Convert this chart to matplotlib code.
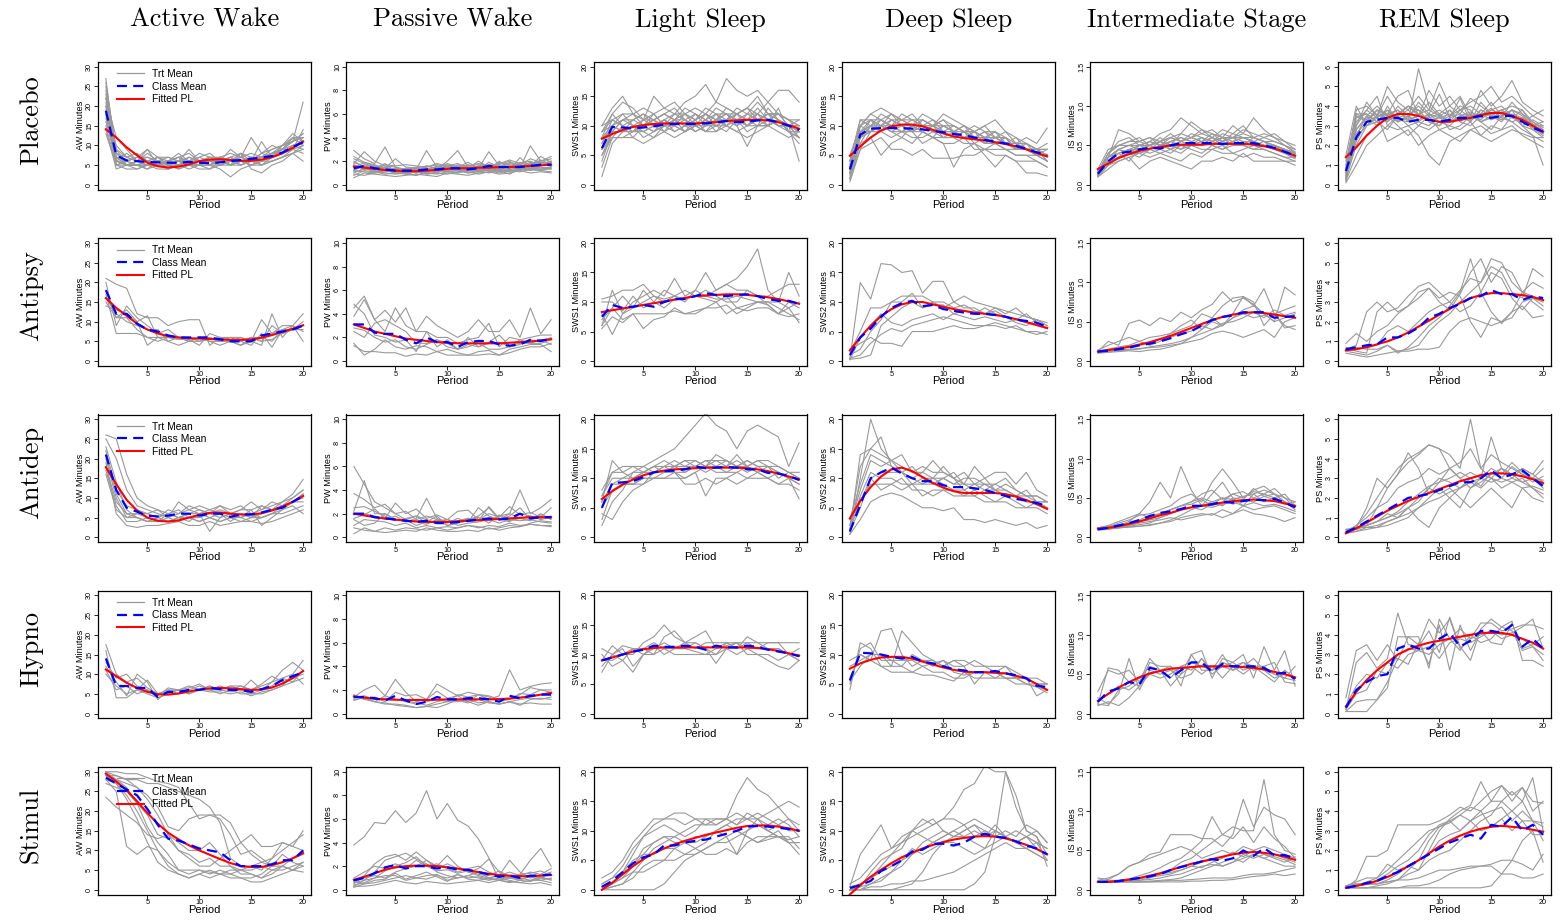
import numpy as np
import matplotlib
matplotlib.use("Agg")
import matplotlib.pyplot as plt

# ---------------------------------------------------------------- layout data
PERIODS = np.arange(1, 21)
CLASSES = ["Placebo", "Antipsy", "Antidep", "Hypno", "Stimul"]
STAGES = ["AW", "PW", "SWS1", "SWS2", "IS", "PS"]
STAGE_TITLES = ["Active Wake", "Passive Wake", "Light Sleep", "Deep Sleep",
                "Intermediate Stage", "REM Sleep"]
Y_TICKS = {
    "AW": [0, 5, 10, 15, 20, 25, 30],
    "PW": [0, 2, 4, 6, 8, 10],
    "SWS1": [0, 5, 10, 15, 20],
    "SWS2": [0, 5, 10, 15, 20],
    "IS": [0.0, 0.5, 1.0, 1.5],
    "PS": [0, 1, 2, 3, 4, 5, 6],
}
X_TICKS = [5, 10, 15, 20]
LEGEND_LABELS = ["Trt Mean", "Class Mean", "Fitted PL"]

# ---------------------------------------------------------------- Placebo
placebo_trt = {
"AW": """
27 6 6 5 5 6 4 5 6 5 5 6 6 7 6 7 8 9 11 21
25 9 7 6 8 6 5 5 6 6 7 6 5 6 7 6 8 10 12 12
22 12 9 6 6 5 6 7 5 5 6 5 6 5 6 7 7 8 9 12
20 6 5 5 4 5 5 4 5 6 5 6 7 6 5 6 6 7 8 10
18 5 5 6 5 6 6 5 7 6 6 7 6 6 6 8 7 8 10 11
16 7 5 5 6 5 4 5 5 4 4 5 5 5 6 6 7 9 10 9
14 4 5 5 5 7 7 6 6 8 7 7 6 6 5 6 8 8 9 8
24 8 7 6 9 7 5 6 9 6 6 5 6 8 7 7 8 9 11 12
21 6 5 4 5 4 4 5 4 5 5 4 2 4 5 5 6 7 8 6
19 10 7 8 6 7 6 8 6 5 6 7 8 7 12 8 9 10 13 11
15 5 6 7 7 6 5 4 5 5 4 6 5 8 4 3 5 6 8 9
23 5 4 4 5 5 6 7 6 7 8 6 9 7 6 11 7 9 9 14
20 7 6 7 6 5 6 6 7 6 5 5 6 7 8 7 9 10 11 13
17 6 8 6 5 6 7 6 5 7 6 6 7 5 6 8 10 9 12 12
26 8 5 6 7 6 5 5 6 6 6 7 5 6 5 6 7 8 10 11
13 5 6 5 4 6 5 6 5 5 7 5 6 6 7 5 6 7 9 10
22 7 6 7 9 5 6 7 8 6 7 6 7 8 6 7 8 9 12 10
18 9 5 5 6 7 5 6 5 6 5 7 5 6 6 5 7 10 11 13
""",
"PW": """
2.9 2.2 1.8 3.2 1.5 1.2 1.0 1.4 1.2 1.6 1.8 1.4 2.0 1.5 1.7 2.0 1.4 3.3 2.0 2.4
1.0 1.4 1.2 1.0 0.9 1.0 0.8 1.1 1.3 1.2 1.0 1.2 1.1 1.4 1.2 1.3 1.5 1.6 1.4 1.5
1.8 2.8 2.0 1.6 1.5 1.3 1.4 1.6 1.3 2.0 2.9 1.5 1.3 1.9 1.5 1.6 1.5 1.8 1.9 1.7
1.5 1.6 1.3 1.2 1.0 1.2 1.1 0.9 1.0 1.4 1.3 1.0 1.3 1.2 1.0 1.2 1.3 1.5 1.3 1.4
0.6 1.0 0.9 0.8 0.7 0.8 0.9 0.8 0.7 1.0 0.9 0.8 1.0 1.1 0.9 1.0 1.2 1.0 1.1 1.0
2.2 1.8 1.5 1.5 1.3 1.1 1.2 1.5 1.7 1.5 1.6 1.4 1.5 1.7 1.4 1.8 1.6 1.7 2.0 2.2
1.3 1.6 1.4 1.8 1.1 1.4 1.0 1.2 1.6 1.3 1.4 1.2 1.6 1.3 2.0 1.3 2.3 1.5 1.7 1.6
1.7 1.3 1.6 1.3 1.4 1.0 1.3 2.9 1.5 1.2 1.5 1.9 1.4 2.8 1.6 1.4 1.9 1.6 2.4 1.9
1.2 1.1 1.0 1.1 1.2 0.9 0.8 1.0 0.9 1.1 1.2 1.1 0.9 1.1 1.3 1.2 1.1 1.3 1.2 1.1
1.4 1.9 1.7 1.4 2.2 1.5 1.4 1.3 1.2 1.7 1.5 1.6 1.8 1.6 1.8 2.1 1.8 2.0 1.6 1.9
0.8 1.2 1.1 0.9 1.0 1.3 1.1 1.4 1.0 0.9 1.1 1.3 1.2 1.0 1.2 0.9 1.4 1.2 1.5 1.3
2.0 1.5 1.3 1.7 1.6 1.7 1.6 1.5 1.8 1.6 1.3 1.6 1.7 1.4 1.9 1.7 1.5 1.9 1.8 2.0
1.1 1.3 1.5 1.2 1.3 1.1 1.2 1.3 1.5 1.2 1.4 1.3 1.5 1.2 1.4 1.6 1.3 1.5 1.7 1.6
1.6 1.4 1.1 1.3 1.0 0.9 1.1 1.0 1.2 1.1 1.0 1.3 1.2 1.4 1.1 1.3 1.2 1.4 1.3 1.5
0.9 0.8 1.0 1.2 1.1 1.0 1.2 0.9 1.1 1.3 1.2 1.0 1.1 1.3 1.2 1.1 1.4 1.3 1.2 1.4
2.4 1.9 1.6 1.4 1.2 1.3 1.5 1.2 1.4 1.8 1.5 1.7 1.4 1.6 1.5 1.9 1.7 2.2 1.9 1.8
1.2 1.7 1.5 1.2 1.4 1.2 1.3 1.1 1.3 1.5 1.3 1.2 1.6 1.5 1.3 1.5 1.6 1.4 1.6 2.0
1.9 1.5 1.3 1.5 1.1 1.4 1.2 1.6 1.4 1.2 1.7 1.5 1.3 1.7 1.6 1.4 1.8 1.7 2.1 1.7
""",
"SWS1": """
1.4 7 9 10 8 9 10 11 9 10 9 11 10 9 8 9 10 11 10 4
10 13 15 12 11 15 13 12 14 15 17 14 18 16 15 16 14 16 16 14
8 9 11 12 10 11 12 11 13 12 11 13 12 11 12 14 12 11 10 9
5 8 8 9 9 10 9 10 9 10 11 10 11 12 10 11 12 10 9 8
7 11 10 8 10 9 11 10 11 9 10 11 12 10 11 10 13 11 10 10
9 12 14 13 11 12 10 12 12 11 13 12 10 12 13 12 11 12 11 11
3 8 8 8 7 8 9 8 9 10 9 9 10 11 9 10 10 11 9 9
6 10 9 11 12 10 11 9 10 11 12 11 13 12 11 13 11 10 10 8
8 12 10 9 11 11 12 13 11 12 10 11 11 10 12 12 14 12 11 10
4 9 9 10 10 9 10 9 10 9 10 10 9 11 10 11 10 13 9 7
10 11 12 12 13 12 13 14 12 13 12 14 13 12 13 15 12 12 11 9
6 9 9 9 10 11 9 11 10 10 11 9 11 10 6.5 10 10 9 8 9
7 10 11 10 9 10 11 10 12 10 11 10 11 11 10 12 11 10 10 9
9 11 10 11 12 11 10 11 10 12 11 12 11 13 12 11 12 11 9 8
6 8 10 9 10 12 10 11 11 10 10 12 12 11 11 11 12 12 11 10
8 10 9 10 9 8 10 10 9 11 9 10 10 9 10 10 11 10 10 8
5 9 11 11 10 11 12 11 12 11 12 11 12 12 13 11 12 12 10 10
9 10 12 10 11 10 11 12 11 10 12 10 11 12 11 12 10 11 10 11
""",
"SWS2": """
1 8 10 12 11 11 10 10 10 9 9 8 8 7 7 6 6 6 5 4
3 10 12 11 10 11 12 10 10 11 9 10 8 8 9 7 7 6 6 5
0.5 6 9 10 9 9 8 8 9 8 8 7 7 6 6 6 5 5 4 3
4 11 11 10 12 10 10 12 11 10 9 10 9 10 8 9 8 7 6 6
2 7 8 5 7 8 7 9 8 7 3 6 7 5 3 5 4 2 2 1.5
5 10 12 13 12 11 11 10 9 10 10 9 10 9 9 8 7 8 7 9.6
2 9 10 9 8 9 9 7 8 7 7 8 6 6 7 6 5 5 5 5
3 8 11 11 10 12 11 11 10 11 10 9 9 8 8 7 7 6 6 5
1 6 7 8 6 6 5 6 4.5 4.5 4.5 5 5 6 5 5 4 4 4 3
4 11 10 10 11 10 9 10 11 9 8 9 8 9 7 8 6 6 5 6
2 9 9 10 9 8 10 9 8 8 9 8 9 7 8 7 8 6 6 4
1.5 10 11 9 11 10 9 11 10 12 11 10 9 10 11 9 7 7 6 7
2 9 11 10 10 10 9 10 9 9 8 9 8 8 7 7 7 6 5 5
4 8 9 11 10 9 10 9 10 10 9 8 9 8 8 8 6 7 6 5
1 7 10 9 10 10 11 10 9 9 10 9 8 9 8 7 7 6 5 4
3 10 9 10 9 10 9 9 8 10 9 8 8 7 7 8 6 6 6 6
2.5 9 10 11 12 11 10 11 10 9 9 9 9 8 9 7 7 7 5 5
3.5 8 9 9 10 9 10 9 10 8 8 9 7 8 7 7 6 6 6 4
""",
"IS": """
0.12 0.3 0.45 0.5 0.45 0.5 0.55 0.6 0.55 0.6 0.65 0.6 0.55 0.6 0.6 0.55 0.5 0.5 0.45 0.4
0.15 0.35 0.7 0.65 0.55 0.5 0.6 0.5 0.65 0.8 0.7 0.6 0.7 0.65 0.75 0.6 0.65 0.6 0.5 0.45
0.1 0.25 0.3 0.35 0.2 0.3 0.35 0.3 0.25 0.2 0.3 0.3 0.35 0.3 0.4 0.3 0.3 0.3 0.3 0.25
0.2 0.45 0.5 0.5 0.55 0.6 0.5 0.55 0.6 0.55 0.5 0.6 0.55 0.65 0.6 0.55 0.6 0.55 0.5 0.4
0.1 0.2 0.3 0.35 0.4 0.45 0.4 0.45 0.4 0.5 0.45 0.45 0.5 0.4 0.45 0.5 0.45 0.4 0.35 0.3
0.15 0.4 0.55 0.6 0.5 0.55 0.65 0.7 0.85 0.75 0.65 0.7 0.6 0.75 0.65 0.85 0.7 0.6 0.55 0.45
0.12 0.3 0.35 0.4 0.45 0.4 0.45 0.4 0.5 0.45 0.4 0.5 0.45 0.55 0.5 0.45 0.45 0.4 0.35 0.35
0.18 0.35 0.45 0.4 0.5 0.55 0.5 0.6 0.55 0.65 0.6 0.55 0.65 0.6 0.5 0.6 0.55 0.5 0.45 0.4
0.13 0.3 0.4 0.45 0.4 0.35 0.4 0.35 0.3 0.4 0.35 0.45 0.4 0.4 0.35 0.4 0.35 0.35 0.3 0.3
0.16 0.4 0.5 0.55 0.6 0.5 0.55 0.65 0.55 0.6 0.7 0.65 0.55 0.6 0.7 0.65 0.6 0.65 0.55 0.5
0.11 0.25 0.35 0.4 0.35 0.45 0.5 0.45 0.5 0.5 0.55 0.5 0.6 0.5 0.55 0.5 0.5 0.45 0.4 0.35
0.14 0.35 0.4 0.3 0.45 0.5 0.45 0.5 0.45 0.55 0.5 0.55 0.5 0.55 0.6 0.55 0.5 0.5 0.45 0.35
0.14 0.35 0.45 0.5 0.5 0.55 0.5 0.55 0.6 0.55 0.6 0.55 0.6 0.55 0.6 0.6 0.55 0.5 0.45 0.4
0.17 0.3 0.4 0.45 0.5 0.45 0.55 0.5 0.55 0.6 0.55 0.6 0.5 0.55 0.5 0.55 0.5 0.5 0.4 0.35
0.12 0.3 0.35 0.45 0.45 0.5 0.45 0.55 0.5 0.5 0.6 0.5 0.55 0.6 0.55 0.5 0.55 0.45 0.45 0.4
0.15 0.35 0.45 0.4 0.5 0.5 0.55 0.45 0.55 0.5 0.5 0.55 0.6 0.5 0.55 0.55 0.5 0.5 0.4 0.38
0.13 0.25 0.35 0.4 0.4 0.45 0.5 0.5 0.45 0.5 0.55 0.5 0.45 0.5 0.5 0.45 0.5 0.45 0.4 0.33
0.16 0.4 0.5 0.55 0.55 0.6 0.55 0.6 0.65 0.6 0.55 0.65 0.6 0.6 0.65 0.6 0.55 0.55 0.5 0.42
""",
"PS": """
0.2 2.5 3.5 4.0 3.5 3.8 3.2 5.9 4.0 3.5 3.2 3.8 4.0 3.6 4.2 3.5 3.8 3.0 2.8 2.6
0.5 3.0 4.2 3.5 4.5 3.6 4.0 3.5 4.8 4.0 4.5 3.8 4.2 4.5 5.0 4.2 4.5 4.0 3.5 3.2
0.1 1.0 2.0 2.5 3.0 2.8 3.0 2.5 1.5 1.0 2.2 2.5 2.8 3.0 2.6 2.8 3.0 2.5 2.2 1.9
1.2 3.5 3.2 3.8 3.2 4.0 3.5 3.0 3.5 2.8 3.0 3.5 3.2 3.8 3.5 3.2 3.8 3.5 3.0 3.0
0.3 2.0 3.0 3.2 2.8 3.5 3.0 3.2 3.0 3.5 2.8 3.0 3.5 3.2 2.8 3.5 3.2 2.8 2.5 2.2
0.8 3.8 4.0 3.5 5.0 4.2 3.8 4.5 3.8 5.2 4.0 4.5 3.5 4.8 4.0 4.5 5.3 4.2 3.8 3.5
0.2 1.5 2.5 3.0 3.5 3.0 2.5 3.0 2.8 3.2 3.0 2.8 3.2 2.5 3.0 2.8 3.5 3.0 2.5 1.0
0.6 3.2 3.8 4.5 3.0 3.5 4.0 3.8 3.2 3.0 3.8 3.2 3.0 3.5 3.8 4.0 3.5 3.2 3.5 3.8
0.4 2.8 3.5 3.0 4.0 3.2 3.5 4.0 3.5 3.8 3.5 4.0 3.8 3.2 3.5 3.8 4.0 3.8 3.2 2.8
1.5 4.0 3.0 3.5 2.2 2.5 2.8 2.0 2.5 2.8 2.5 2.2 2.8 2.5 2.2 2.5 2.8 2.6 2.4 2.4
0.3 2.2 3.2 3.8 3.6 4.5 4.8 3.5 4.2 3.6 4.0 3.6 4.4 4.0 3.6 3.8 3.4 3.8 3.0 3.2
0.9 3.6 3.6 3.2 3.8 3.2 3.4 4.2 3.6 4.6 3.4 4.4 3.2 4.2 3.6 3.4 4.2 3.6 2.9 2.6
0.5 2.8 3.4 3.6 3.3 3.5 3.8 3.3 3.6 3.4 3.2 3.5 3.7 3.4 3.6 3.8 3.5 3.3 3.0 2.8
0.3 2.4 3.0 3.4 3.8 3.4 3.6 3.8 3.2 3.0 3.4 3.6 3.3 3.8 3.5 3.3 3.6 3.4 3.1 2.6
0.7 3.4 3.6 3.2 3.6 3.8 3.3 3.5 3.4 3.6 3.2 3.4 3.6 3.3 3.8 3.6 3.4 3.2 2.9 2.5
0.4 3.0 3.8 3.4 3.2 3.6 4.0 3.6 3.3 3.4 3.6 3.3 3.5 3.6 3.3 3.5 3.8 3.6 3.2 2.9
1.0 3.6 3.3 3.8 3.5 3.2 3.5 3.2 3.6 3.2 3.5 3.8 3.4 3.5 3.9 3.4 3.2 3.4 2.8 2.4
0.6 2.6 3.2 3.5 3.6 3.3 3.2 3.6 3.8 3.5 3.8 3.2 3.6 3.2 3.4 3.7 3.5 3.0 3.3 3.0
""",
}
placebo_mean = {
    "AW": [18.8, 7.5, 6.2, 6.0, 5.8, 5.7, 5.6, 5.6, 5.8, 5.6, 5.5, 5.7, 6.0, 6.3, 6.6, 6.9, 7.3, 8.2, 9.6, 10.8],
    "PW": [1.4, 1.6, 1.4, 1.3, 1.2, 1.2, 1.2, 1.3, 1.3, 1.4, 1.4, 1.3, 1.4, 1.6, 1.5, 1.5, 1.5, 1.6, 1.7, 1.7],
    "SWS1": [6.2, 9.8, 9.7, 9.6, 9.7, 9.9, 10.2, 10.3, 10.3, 10.3, 10.4, 10.6, 10.8, 10.6, 10.7, 10.9, 11.0, 10.6, 10.0, 9.3],
    "SWS2": [2.6, 8.5, 9.5, 9.6, 9.6, 9.6, 9.5, 9.4, 9.1, 8.9, 8.6, 8.4, 8.0, 7.6, 7.3, 7.0, 6.6, 6.1, 5.5, 5.1],
    "IS": [0.14, 0.30, 0.40, 0.42, 0.45, 0.47, 0.46, 0.50, 0.53, 0.53, 0.53, 0.53, 0.52, 0.53, 0.53, 0.53, 0.50, 0.47, 0.42, 0.37],
    "PS": [0.7, 2.4, 3.2, 3.3, 3.4, 3.4, 3.2, 3.3, 3.3, 3.2, 3.3, 3.4, 3.4, 3.5, 3.4, 3.5, 3.5, 3.2, 2.9, 2.7],
}
placebo_fit = {
    "AW": [14.1, 12.0, 9.5, 7.5, 5.6, 4.7, 4.4, 4.6, 5.2, 6.0, 6.4, 6.5, 6.3, 6.1, 6.1, 6.4, 7.0, 8.0, 9.4, 11.0],
    "PW": [1.55, 1.45, 1.35, 1.25, 1.2, 1.15, 1.15, 1.2, 1.25, 1.35, 1.4, 1.4, 1.45, 1.45, 1.5, 1.5, 1.55, 1.6, 1.65, 1.7],
    "SWS1": [7.8, 8.6, 9.3, 9.8, 10.1, 10.3, 10.4, 10.4, 10.4, 10.4, 10.5, 10.6, 10.8, 10.9, 11.0, 11.0, 10.9, 10.6, 10.1, 9.5],
    "SWS2": [4.9, 6.5, 8.0, 9.2, 9.9, 10.2, 10.2, 9.9, 9.3, 8.7, 8.2, 7.9, 7.7, 7.5, 7.2, 6.9, 6.5, 6.0, 5.4, 4.8],
    "IS": [0.20, 0.27, 0.34, 0.39, 0.43, 0.46, 0.48, 0.50, 0.51, 0.51, 0.51, 0.52, 0.52, 0.52, 0.52, 0.51, 0.49, 0.46, 0.42, 0.37],
    "PS": [1.4, 1.9, 2.5, 3.0, 3.4, 3.6, 3.6, 3.5, 3.3, 3.2, 3.2, 3.3, 3.4, 3.55, 3.65, 3.65, 3.5, 3.3, 3.0, 2.7],
}

# ---------------------------------------------------------------- Antipsychotics
antipsy_trt = {
"AW": """
21 19.5 18.5 12 11 11 9 10 10.5 10.5 4 6 6 6 5 4 12 6 9 12
20 9 14 11 9 7 8 6 5 6 6 5 5 4 5 10.5 7 8 8 9
17 7 7 7 6 6 6 5.5 6 5 5.5 6 5 5 6 5 5.5 7 8 10
16 12 10 9 8 8 5 4 5 6 5 5 5 5 4 7 3.5 8 8 8
18 11 11 8 6 5 6 6 5 5 6 5 6 5 6 6 7 9 9 7.5
15 11 13 10 4 6 5 6 5 6 5 4 5 4 6 5 9 7 8 9
14 13 12 10 11.5 6 6 5.5 5.5 4 7 6 5 6 5 6 5 8 9 5
""",
"PW": """
4.5 5.5 3.5 2.5 4.5 3.0 2.5 3.8 3.0 2.5 2.0 2.5 3.5 2.5 2.5 3.5 2.0 4.5 2.3 3.5
3.8 5.2 3.5 4.3 3.3 4.5 2.5 2.5 2.0 2.0 1.5 1.8 2.0 3.2 1.2 2.0 1.8 2.0 2.2 2.2
2.5 2.0 3.2 3.5 3.0 2.5 1.5 1.5 1.8 1.2 1.0 1.2 1.5 1.0 1.0 1.2 1.8 1.5 1.5 1.8
1.5 0.5 1.0 1.8 1.2 1.0 1.3 1.2 0.8 1.0 0.7 0.5 0.8 0.9 0.5 1.0 1.2 1.4 1.4 0.8
4.8 4.0 2.2 2.0 1.6 1.8 0.8 2.5 1.2 1.8 1.0 2.0 1.2 1.6 2.2 1.3 1.5 1.5 1.8 1.4
1.3 0.8 0.8 0.7 0.7 0.4 0.6 0.5 0.8 0.5 0.5 0.5 0.5 0.6 0.5 0.7 1.0 1.2 1.2 1.5
2.8 2.6 2.0 1.6 1.8 1.2 1.0 1.4 1.8 1.5 1.0 1.4 1.2 1.5 1.6 1.2 1.4 1.8 1.6 2.0
""",
"SWS1": """
6 12 8 10 11 12 11 14 11 12 15 12 13 14 16 19 12 10 15 11
8 4.5 8 9 12 10 12 11 10 12 11 12 13 12 12 11 11 12 13 13
10.5 11 12 12 13 11 10 11 10.5 11 10.5 10 11 9 9.5 10 10 9 8 7
5.5 7.5 6.5 8 5.5 7 7.5 9 8 8 9 10 8 9 8.5 9 9 8 7.5 8
6 9 11 9 10 11 10.5 11 12 11 12 11 10 10 12 11 9.5 8 10 9
10 10 8.5 11 9 10 9 10.5 10.5 11 11 10.5 10.5 11 10.5 10 10 10 9 10
7 9 7 8 8 8 8 8.5 8 8.5 9 9 9.5 8 9 10 9.5 8 9 6.5
""",
"SWS2": """
0.3 13.3 10.5 16.5 16.3 15 15.3 11.5 13.5 13.5 10 11 10 9.5 9 8.5 8 7.5 7 6
1.5 5 9 9 10 11 11 11 10 10 9 9.5 8.5 8 9 8 9 7.5 7 6.5
1.0 2 5 7 10 10 11.5 9 10 9 10 9 9 8 8.5 7.5 7 8 6.5 5.5
0.3 0.5 1 6 7.5 9 10 9 9.5 9.5 8 8.5 8 9 8 7.5 6.5 6 7 6
0.5 1 3 4.5 5.5 5 6 6.5 7 7.5 7 6.5 6 6 6.5 6 5.5 5 5 4.5
2 3 4 3 3 2.5 5 5 5 5.5 6 5.5 5.5 6 6 5.5 6 5 4.5 5
0.2 4 6 8 6.5 6 7 7.5 8 7 8 7.5 7 7.5 7 6.5 7 6.5 6 5.5
""",
"IS": """
0.12 0.25 0.20 0.48 0.52 0.45 0.55 0.50 0.62 0.55 0.65 0.72 0.88 0.75 0.80 0.72 0.60 0.50 0.94 0.84
0.13 0.15 0.18 0.20 0.25 0.30 0.32 0.35 0.40 0.45 0.60 0.55 0.70 0.80 0.82 0.70 0.92 0.60 0.45 0.40
0.11 0.12 0.13 0.14 0.15 0.18 0.20 0.22 0.25 0.30 0.35 0.40 0.45 0.55 0.65 0.70 0.60 0.50 0.55 0.60
0.10 0.11 0.12 0.13 0.12 0.14 0.15 0.18 0.22 0.30 0.40 0.50 0.45 0.55 0.60 0.55 0.58 0.60 0.65 0.70
0.14 0.20 0.25 0.30 0.25 0.20 0.25 0.35 0.45 0.52 0.40 0.55 0.45 0.60 0.82 0.75 0.45 0.60 0.42 0.45
0.12 0.13 0.14 0.15 0.16 0.17 0.18 0.20 0.22 0.25 0.28 0.35 0.38 0.35 0.30 0.35 0.40 0.30 0.50 0.55
0.13 0.14 0.15 0.18 0.20 0.22 0.28 0.30 0.35 0.38 0.45 0.40 0.48 0.50 0.55 0.62 0.55 0.65 0.58 0.62
""",
"PS": """
0.6 0.8 2.5 3.0 2.5 2.7 3.3 3.8 4.0 3.5 3.0 3.6 4.2 4.0 4.8 4.5 3.5 3.2 4.7 4.3
0.9 1.4 1.0 1.5 1.8 2.4 2.8 3.2 3.7 3.0 2.6 3.4 4.5 5.2 4.0 4.8 4.5 3.5 4.0 3.7
0.5 0.4 0.3 0.5 0.8 0.5 0.6 0.8 1.5 2.0 2.4 3.0 3.5 4.0 5.2 5.0 4.0 3.5 3.0 2.6
0.6 0.7 0.6 0.6 0.8 0.4 0.7 1.2 1.8 2.2 2.8 3.5 5.2 3.5 4.5 4.2 3.2 2.6 3.2 3.0
0.7 0.5 0.4 2.5 3.0 2.5 2.8 3.5 3.7 3.2 3.5 3.3 2.0 1.2 2.2 2.0 2.2 3.0 3.2 2.8
0.4 0.3 0.2 0.3 0.4 0.5 0.5 0.6 0.6 0.7 1.5 2.0 2.2 2.0 1.8 2.0 2.5 2.8 2.2 2.3
0.5 0.6 0.7 0.8 1.5 1.8 1.5 2.0 2.5 2.8 3.0 2.5 2.8 3.5 2.5 1.9 2.5 3.5 3.3 3.1
""",
}
antipsy_mean = {
    "AW": [18.0, 12.0, 12.0, 9.5, 8.0, 7.5, 6.5, 6.0, 6.0, 6.0, 6.0, 5.5, 5.0, 5.0, 5.0, 6.5, 7.0, 7.5, 8.0, 9.0],
    "PW": [3.1, 3.1, 2.4, 2.3, 2.3, 1.8, 1.5, 2.0, 1.6, 1.6, 1.2, 1.6, 1.7, 1.7, 1.4, 1.3, 1.4, 1.8, 1.7, 1.9],
    "SWS1": [7.5, 9.5, 9.0, 9.2, 9.5, 9.2, 10.0, 10.5, 10.5, 11.0, 11.5, 11.2, 11.0, 11.2, 11.3, 11.0, 10.5, 10.2, 10.2, 9.7],
    "SWS2": [1.0, 4.0, 5.5, 7.5, 9.0, 9.8, 10.2, 9.3, 9.5, 8.8, 8.5, 8.2, 8.0, 8.0, 7.8, 7.5, 7.0, 6.8, 6.5, 5.8],
    "IS": [0.12, 0.13, 0.15, 0.17, 0.20, 0.22, 0.25, 0.29, 0.34, 0.38, 0.45, 0.52, 0.56, 0.58, 0.62, 0.62, 0.62, 0.55, 0.56, 0.57],
    "PS": [0.6, 0.7, 0.8, 0.85, 1.2, 1.2, 1.4, 1.7, 2.2, 2.4, 2.7, 2.9, 3.2, 3.3, 3.6, 3.4, 3.4, 3.1, 3.3, 3.2],
}
antipsy_fit = {
    "AW": [16.0, 13.5, 11.5, 9.5, 8.0, 7.0, 6.3, 6.0, 5.8, 5.7, 5.6, 5.5, 5.4, 5.4, 5.5, 5.9, 6.6, 7.4, 8.2, 9.1],
    "PW": [3.1, 2.8, 2.5, 2.3, 2.1, 1.9, 1.8, 1.7, 1.6, 1.55, 1.5, 1.5, 1.5, 1.5, 1.5, 1.55, 1.6, 1.65, 1.75, 1.85],
    "SWS1": [8.3, 8.6, 8.9, 9.2, 9.5, 9.8, 10.1, 10.4, 10.7, 11.0, 11.1, 11.2, 11.3, 11.3, 11.2, 11.0, 10.8, 10.5, 10.1, 9.7],
    "SWS2": [1.8, 4.0, 6.0, 7.6, 8.8, 9.6, 10.0, 10.0, 9.6, 9.2, 8.8, 8.5, 8.2, 8.0, 7.8, 7.5, 7.1, 6.6, 6.1, 5.6],
    "IS": [0.12, 0.14, 0.16, 0.18, 0.21, 0.24, 0.28, 0.32, 0.37, 0.42, 0.47, 0.52, 0.56, 0.59, 0.61, 0.62, 0.61, 0.59, 0.57, 0.55],
    "PS": [0.55, 0.6, 0.7, 0.85, 1.0, 1.2, 1.45, 1.75, 2.05, 2.35, 2.65, 2.95, 3.2, 3.35, 3.45, 3.45, 3.4, 3.35, 3.25, 3.1],
}

# ---------------------------------------------------------------- Antidepressants
antidep_trt = {
"AW": """
26 25 16 10 8 7 6 5 6 6 7 6 5 6 5 6 7 8 9 11
23 14 7 5 4 5 6 5 6 7 6 7 6 7 7 8 7 9 10 12
19 6 3 2.5 3 3 3.5 4 3 3 4 3 3.5 4 4 3.5 4 5 6 7
21 11 6 5 4 4 5 4 5 4 5 4 5 5 4 5 6 7 9 9
18 9 6 6 6 7 5 6 7 8 7 8 6 7 9 7 8 9 11 14.7
17 8 4 4 5 4 6 7 5 5 6 5 6 5 6 5 6 8 9 10
25 20 12 8 7 6 5 9 7 6 5 6 4 6 5 8 7 8 10 12
20 10 5 6 5 4 4 5 4 6 1.5 5 6 5 7 3 5 7 8 6
22 12 8 7 6 5 7 6 8 7 6 8 7 8 6 7 9 8 9 11
16 7 5 5 4 5 4 5 5 4 5 4 5 4 5 5 6 6 7 8
""",
"PW": """
6.0 4.5 3.0 2.5 2.0 1.5 1.8 1.5 1.2 1.5 1.0 1.2 1.3 1.5 1.2 1.5 1.4 1.5 1.3 1.2
2.2 4.8 2.0 2.0 1.5 1.5 1.0 1.3 1.8 1.0 1.2 1.5 1.8 2.5 1.5 1.8 2.5 1.5 2.0 1.5
3.7 3.2 2.5 2.8 2.0 2.2 1.5 1.8 1.5 1.3 1.4 1.6 1.5 1.4 1.8 2.0 1.6 1.8 1.5 1.7
1.0 1.5 1.4 1.3 1.0 1.2 0.8 1.0 0.8 0.6 0.8 1.0 0.8 1.0 0.9 1.2 1.0 1.1 1.0 1.0
1.9 2.0 1.8 1.5 1.8 1.3 1.6 3.3 1.6 1.2 1.6 1.3 2.5 1.8 1.5 2.0 4.0 2.0 2.5 3.2
0.3 0.8 0.5 0.8 0.6 0.8 0.7 0.6 0.8 0.9 0.8 1.0 0.9 0.7 0.8 1.0 0.9 1.1 1.0 0.9
2.5 2.6 2.2 1.8 1.4 1.6 1.8 1.2 1.4 1.5 1.3 1.6 1.4 2.6 1.6 1.3 2.0 1.8 1.6 1.8
1.5 1.0 1.2 2.0 1.5 1.4 1.3 1.1 1.5 1.0 1.2 1.4 1.7 1.2 1.9 1.4 1.6 1.4 1.9 1.6
0.8 0.6 0.5 0.4 0.5 0.6 0.5 0.8 0.6 0.5 0.5 0.6 0.5 0.8 0.6 0.8 0.9 1.2 1.4 1.3
1.6 1.9 2.4 1.6 2.9 2.0 2.4 1.6 1.9 1.5 2.2 2.3 1.5 2.0 1.7 2.6 1.9 2.1 1.7 2.5
""",
"SWS1": """
2 6 8 11 12 13 14 15 17 19 21 19 18 15 18 19 18 17 12 16
6 13 11 10 11 12 12 12 13 13 12 13 13 12 12 13 12 11 10 9
4 3 6 8 9 11 11 12 12 13 12 12 11 11 12 11 10 11 10 10
7 10 10 11 11 11 12 11 11 12 12 14 13 12 13 12 12 10 11 10
5 9 9 9 10 10 10 10 10 11 12 11 11 12 11 12 11 11 10 9
8 11 12 12 12 11 12 13 12 12 13 12 13 12 13 12 12 12 11 10
3 8 9 9 10 10 11 11 10 11 7 10 10 11 10 11 10 9 9 8
6 9 10 10 11 12 11 12 13 12 11 12 12 13 12 11 12 11 10 10
7 11 11 12 11 12 13 12 11 12 13 13 12 14 12 13 13 12 11 11
5 8 9 9 9 10 10 11 9 9 10 9 10 9 10 10 10 9 10 6.5
""",
"SWS2": """
0.5 10 20 15 13 14 11 12 11 11 10 9 9 8 9 8 7 8 6 6
1 14 15 17 12 11 10 9 9 10 9 10 10 9 8 8 7 7 6 5
2 8 13 12 13 12 11 11 13 11 10 11 9 10 8 9 8 7 7 6
1 5 10 11 11 11 10 11 10 10 9 9 8 9 8 7 7 6 6 6
3 6 9 9 9 10 8 8 7 8 8 7 8 7 6 7 6 5 6 5
0.5 3 6 7 7.5 7 6 5 5 4.5 5 3 3 2.5 3 2.5 2 2.5 1.5 2
2 12 15 14 13 11 9 10 9 10 11 9 12 10 11 11 9 11 8 7
1 7 11 10 10 9 9 9 10 9 8 8 7 8 8 7 7 6 6 5
3 9 14 13 12 11 12 10 10 12 10 8 9 9 9 10 8 7 7 6
1.5 6 10 8 9 8 9 7 8 8 7 7 7 6 6 6 5 5 5 4
""",
"IS": """
0.10 0.12 0.15 0.20 0.30 0.45 0.70 0.50 0.90 0.60 0.40 0.55 0.70 0.50 0.40 0.55 0.45 0.50 0.55 0.40
0.11 0.13 0.18 0.22 0.28 0.30 0.35 0.40 0.50 0.55 0.45 0.70 0.87 0.70 0.50 0.60 0.65 0.55 0.50 0.45
0.10 0.11 0.12 0.14 0.16 0.18 0.25 0.30 0.35 0.38 0.40 0.45 0.50 0.48 0.52 0.55 0.60 0.55 0.45 0.40
0.09 0.10 0.12 0.13 0.14 0.15 0.18 0.20 0.25 0.28 0.30 0.28 0.35 0.30 0.40 0.35 0.38 0.40 0.35 0.30
0.12 0.15 0.20 0.25 0.30 0.25 0.30 0.35 0.40 0.45 0.50 0.45 0.40 0.50 0.48 0.62 0.52 0.55 0.45 0.40
0.10 0.11 0.13 0.15 0.18 0.20 0.22 0.25 0.22 0.25 0.28 0.30 0.25 0.30 0.35 0.30 0.28 0.25 0.20 0.25
0.11 0.12 0.15 0.18 0.22 0.28 0.30 0.35 0.40 0.42 0.48 0.40 0.45 0.55 0.58 0.50 0.55 0.50 0.45 0.35
0.10 0.12 0.14 0.16 0.20 0.22 0.25 0.30 0.35 0.38 0.35 0.42 0.50 0.42 0.48 0.45 0.52 0.48 0.42 0.45
0.12 0.14 0.16 0.18 0.20 0.25 0.28 0.35 0.40 0.45 0.55 0.60 0.48 0.55 0.50 0.58 0.55 0.62 0.50 0.38
0.10 0.11 0.12 0.13 0.14 0.16 0.18 0.22 0.28 0.35 0.40 0.38 0.42 0.45 0.40 0.44 0.40 0.42 0.38 0.33
""",
"PS": """
0.2 0.5 1.5 3.0 2.5 3.2 3.8 4.2 4.7 4.5 3.5 3.8 4.5 3.5 3.0 3.5 3.0 2.8 3.0 3.5
0.3 0.6 1.2 2.0 2.8 3.5 4.0 4.3 4.7 4.5 4.2 3.5 6.0 3.5 4.2 3.8 3.5 3.2 3.0 2.5
0.2 0.3 0.5 0.5 0.6 0.8 1.0 1.5 2.0 2.5 2.0 1.5 2.5 3.0 5.1 3.5 3.2 2.8 2.5 2.0
0.4 0.4 0.6 0.8 1.0 1.2 1.5 0.9 0.5 1.5 2.0 2.5 2.8 2.5 3.0 2.5 2.8 3.0 2.5 2.2
0.3 0.5 0.6 1.5 2.5 3.2 4.3 3.5 2.2 2.8 3.5 3.0 2.5 2.8 3.2 3.5 3.2 3.5 3.2 2.8
0.2 0.3 0.4 0.5 0.8 1.0 1.5 2.0 2.5 3.0 2.8 2.5 3.0 3.2 3.0 2.8 3.0 3.5 3.2 3.9
0.3 0.4 0.6 0.8 1.2 1.0 1.5 1.8 2.5 2.2 2.5 2.0 1.5 2.0 2.5 2.0 1.5 2.5 2.0 1.8
0.2 0.6 1.0 1.5 1.8 2.5 2.8 3.0 3.5 3.2 3.5 3.0 3.3 3.0 3.5 3.2 3.8 3.3 3.0 2.9
0.3 0.5 0.5 0.6 0.8 1.0 1.2 1.5 1.8 2.0 2.3 2.5 2.8 3.0 2.8 3.0 2.8 2.5 2.6 2.4
0.4 0.5 0.6 0.8 1.0 1.3 1.8 2.2 2.6 2.8 3.0 3.3 3.0 2.6 3.3 3.0 3.6 3.2 2.8 3.1
""",
}
antidep_mean = {
    "AW": [21.0, 12.0, 7.5, 6.5, 5.5, 5.3, 5.5, 6.0, 6.0, 5.5, 6.0, 6.0, 5.2, 5.8, 5.8, 6.3, 7.0, 7.5, 9.0, 10.5],
    "PW": [2.0, 2.0, 1.7, 1.6, 1.5, 1.4, 1.3, 1.4, 1.2, 1.2, 1.3, 1.4, 1.5, 1.6, 1.5, 1.6, 2.0, 1.6, 1.7, 1.7],
    "SWS1": [5.0, 9.2, 9.3, 9.5, 10.2, 11.0, 11.2, 11.3, 11.5, 12.0, 11.7, 11.8, 11.9, 11.8, 11.5, 11.5, 10.9, 10.8, 10.4, 9.7],
    "SWS2": [1.0, 5.5, 10.0, 11.0, 11.8, 10.8, 10.0, 9.5, 9.5, 8.8, 8.5, 8.5, 8.3, 8.0, 7.5, 7.0, 6.5, 6.2, 5.8, 5.3],
    "IS": [0.10, 0.12, 0.15, 0.18, 0.22, 0.27, 0.31, 0.33, 0.36, 0.40, 0.40, 0.42, 0.45, 0.44, 0.46, 0.48, 0.47, 0.49, 0.44, 0.38],
    "PS": [0.25, 0.5, 0.8, 1.1, 1.4, 1.7, 2.0, 2.1, 2.2, 2.4, 2.6, 2.8, 2.8, 3.0, 3.4, 3.0, 3.2, 3.4, 3.0, 2.6],
}
antidep_fit = {
    "AW": [17.8, 13.5, 9.5, 6.8, 5.0, 4.2, 4.0, 4.3, 5.0, 5.7, 6.2, 6.3, 6.0, 5.8, 5.8, 6.1, 6.8, 7.8, 9.0, 10.5],
    "PW": [2.0, 1.85, 1.7, 1.6, 1.5, 1.4, 1.35, 1.3, 1.3, 1.3, 1.35, 1.4, 1.45, 1.5, 1.55, 1.6, 1.65, 1.7, 1.7, 1.7],
    "SWS1": [6.5, 7.8, 8.9, 9.8, 10.5, 11.0, 11.3, 11.5, 11.6, 11.7, 11.8, 11.8, 11.8, 11.8, 11.7, 11.5, 11.2, 10.8, 10.3, 9.8],
    "SWS2": [3.2, 6.2, 8.5, 10.3, 11.5, 11.8, 11.2, 10.2, 9.2, 8.4, 7.8, 7.5, 7.5, 7.5, 7.5, 7.3, 6.9, 6.3, 5.6, 4.8],
    "IS": [0.11, 0.12, 0.14, 0.17, 0.20, 0.24, 0.28, 0.31, 0.35, 0.38, 0.40, 0.42, 0.44, 0.46, 0.47, 0.48, 0.47, 0.46, 0.43, 0.40],
    "PS": [0.2, 0.45, 0.75, 1.05, 1.35, 1.6, 1.85, 2.05, 2.25, 2.45, 2.65, 2.85, 3.0, 3.15, 3.25, 3.25, 3.2, 3.1, 2.95, 2.75],
}

# ---------------------------------------------------------------- Hypnotics
hypno_trt = {
"AW": """
17.5 10 8 9 6.5 5 5.5 6 5 6 7 6 5.5 6 5 6 7 9 10 13.5
16 4 4 6 8.5 5 6 5 6 7 6 7 6 7 6 7 8 11 13 11
13 9 10 7 6 4 5 6 5 6 6 5 6 5 5 5 6 7 10 7.5
12 8 4.5 10 8 3.5 6 6 7 6 7 6 7 6 8.5 6 8 9 8 11
11 6 7 5 6 4.5 6.5 6 6.5 7.5 6 6 7 7 6 7.5 9.5 8 9 10
10 7 5 6 5 4 5 5 5.5 6 5.5 5.5 5 5.5 4.5 5.5 6 7 8 9
""",
"PW": """
1.6 1.2 1.0 1.5 2.9 1.8 1.0 1.2 2.5 2.0 1.5 1.0 1.6 1.2 1.5 3.7 2.0 2.3 2.5 2.6
1.2 1.3 1.0 0.8 0.8 0.7 0.5 0.6 0.8 1.0 1.0 1.2 0.9 1.0 0.8 1.0 0.8 0.9 0.8 0.8
1.4 2.0 2.4 1.5 1.2 1.0 0.8 1.0 1.2 1.0 1.6 1.4 1.6 1.5 1.2 1.2 1.6 2.2 2.0 2.0
1.1 1.4 1.0 0.9 0.7 0.6 0.5 0.6 0.5 0.8 1.2 1.0 0.7 1.0 0.8 1.0 0.7 1.2 1.3 1.2
1.5 1.2 1.4 1.0 1.8 1.5 1.6 1.2 1.9 1.3 1.5 1.8 1.6 1.4 1.0 1.2 1.7 1.6 2.0 1.8
1.3 1.5 1.2 1.3 1.2 1.1 0.9 0.7 1.0 1.2 1.1 0.9 1.2 0.9 0.8 1.0 1.2 1.3 1.2 1.4
""",
"SWS1": """
7 10 11 8 10 10 13 14 12 12 11 10 12 11 13 12 11 11 10 9
9 11.5 10 10 12 13 15 13 12 13 14 11 12 12 12 12 12 12 10 11
11 10 9 7 10 11 12 11 12 11 12 12 12 11 12 11 12 12 12 12
8 10 11.5 11 11 12 11 10 10 10 10 10 11 12 10 10 10 9 10 10
10 8 9 11 11 10 11 11 11 12 11 8.5 11 10 11 10 9 8 7.5 9
9 9 10 11 10 11.5 10 11 11 10.5 10 11 11.5 12 11 11 11 11 10 9
""",
"SWS2": """
4 12 11 8 8 14 12 10 9 8 9 8 5 7 7 6 6 5 4.5 3.5
6 10 9 14 14.4 10 8 9 8 9 8 8 9 8 7 8 6 6 5 5
5 11 12 9 9 8 10 9 9 8 9 9 8 8 8 8 7 6 6 5
8 9 10 10 8 8 7 8 7 7 6 6 7 7 7 6 6 6 3 4
9 10 9 8 7 7 7 6.5 6.5 6 5.5 7 6 6 6 6 5 5 4.5 4
5.5 8 10 10 9 9 9 8 8.5 9 7 6.5 7 7 6 7 6 5 5 5
""",
"IS": """
0.28 0.55 0.50 0.55 0.40 0.70 0.55 0.60 0.35 0.75 0.80 0.45 0.70 0.65 0.75 0.45 0.85 0.55 0.80 0.35
0.12 0.58 0.55 0.40 0.35 0.65 0.60 0.60 0.50 0.75 0.55 0.55 0.75 0.55 0.65 0.60 0.50 0.40 0.55 0.45
0.10 0.15 0.10 0.20 0.35 0.50 0.45 0.50 0.60 0.55 0.70 0.50 0.60 0.55 0.60 0.70 0.55 0.50 0.45 0.60
0.12 0.10 0.30 0.35 0.45 0.60 0.55 0.35 0.50 0.60 0.50 0.60 0.45 0.60 0.65 0.55 0.60 0.65 0.40 0.38
0.20 0.12 0.25 0.70 0.30 0.55 0.50 0.55 0.45 0.50 0.70 0.55 0.65 0.60 0.50 0.60 0.55 0.45 0.50 0.45
0.15 0.25 0.35 0.30 0.40 0.50 0.55 0.45 0.60 0.65 0.60 0.55 0.60 0.65 0.55 0.60 0.60 0.50 0.45 0.42
""",
"PS": """
0.8 3.2 3.5 2.7 3.5 2.7 3.9 3.9 2.3 4.8 3.8 4.3 3.8 4.6 4.6 4.2 4.3 4.5 4.5 4.3
0.2 2.6 3.1 2.3 2.8 5.1 3.5 3.4 4.2 3.1 4.9 3.4 2.7 4.3 4.8 4.4 4.7 2.7 2.7 2.4
0.1 0.1 0.1 0.7 1.6 2.8 2.5 3.6 2.5 4.5 2.2 4.5 3.2 4.2 3.6 3.5 4.6 3.3 3.5 3.9
0.1 0.6 0.7 0.7 1.3 3.9 3.9 3.5 4.8 4.1 4.8 3.3 3.8 4.0 4.2 4.0 4.1 4.4 4.8 3.3
0.4 1.4 2.0 1.8 2.6 2.3 3.0 3.2 3.4 2.8 3.6 3.8 3.6 3.9 4.2 3.8 4.0 3.8 3.4 3.0
0.2 1.0 1.2 2.2 2.0 3.0 3.3 3.2 3.0 3.5 3.8 3.2 4.0 3.6 3.8 4.4 4.2 3.2 3.4 2.7
""",
}
hypno_mean = {
    "AW": [14.0, 7.0, 7.0, 6.5, 6.5, 4.2, 5.5, 5.5, 6.0, 6.0, 6.5, 6.2, 6.0, 6.0, 5.5, 6.2, 7.0, 8.5, 9.5, 10.5],
    "PW": [1.4, 1.4, 1.3, 1.1, 1.5, 1.1, 0.8, 1.0, 1.4, 1.2, 1.2, 1.3, 1.3, 1.2, 1.0, 1.5, 1.3, 1.5, 1.6, 1.6],
    "SWS1": [9.0, 9.5, 10.0, 10.5, 10.8, 11.5, 11.3, 11.3, 11.5, 11.3, 10.8, 11.5, 11.2, 11.2, 11.5, 11.3, 10.8, 10.5, 10.2, 9.7],
    "SWS2": [5.6, 10.3, 10.2, 10.0, 9.6, 9.3, 9.6, 8.8, 8.5, 8.0, 7.5, 7.3, 7.0, 7.0, 7.2, 6.8, 6.5, 6.0, 4.7, 4.5],
    "IS": [0.15, 0.28, 0.32, 0.40, 0.37, 0.58, 0.55, 0.45, 0.55, 0.65, 0.65, 0.53, 0.63, 0.60, 0.60, 0.60, 0.58, 0.50, 0.52, 0.44],
    "PS": [0.3, 1.2, 1.6, 1.9, 2.0, 3.3, 3.5, 3.3, 3.3, 3.8, 4.1, 3.4, 3.7, 4.2, 4.2, 4.1, 4.5, 3.4, 3.8, 3.3],
}
hypno_fit = {
    "AW": [11.2, 9.5, 7.8, 6.5, 5.5, 4.9, 4.8, 5.1, 5.6, 6.1, 6.4, 6.5, 6.4, 6.2, 6.0, 6.1, 6.6, 7.6, 9.0, 10.8],
    "PW": [1.45, 1.35, 1.25, 1.2, 1.17, 1.15, 1.15, 1.15, 1.17, 1.2, 1.2, 1.2, 1.2, 1.2, 1.22, 1.27, 1.35, 1.45, 1.6, 1.75],
    "SWS1": [9.0, 9.5, 10.0, 10.5, 10.9, 11.1, 11.2, 11.2, 11.2, 11.2, 11.2, 11.2, 11.2, 11.2, 11.2, 11.1, 10.9, 10.6, 10.2, 9.8],
    "SWS2": [7.6, 8.5, 9.1, 9.5, 9.6, 9.6, 9.3, 8.8, 8.3, 7.8, 7.4, 7.1, 7.0, 7.0, 6.9, 6.8, 6.4, 5.9, 5.0, 4.0],
    "IS": [0.16, 0.25, 0.33, 0.40, 0.46, 0.51, 0.54, 0.57, 0.58, 0.59, 0.60, 0.60, 0.60, 0.60, 0.59, 0.58, 0.56, 0.53, 0.50, 0.46],
    "PS": [0.35, 1.1, 1.7, 2.2, 2.6, 3.0, 3.25, 3.45, 3.6, 3.7, 3.8, 3.9, 4.0, 4.1, 4.1, 4.1, 4.0, 3.8, 3.6, 3.3],
}

# ---------------------------------------------------------------- Stimulants
stimul_trt = {
"AW": """
30 30 29.5 29.5 28.5 27.5 27 26 22 18 19 19 17 12 14 11 11 12 11 15
29 29 28 28 27 27 26 25 24 23 21 17 8 6 6 5 8 10 12 14
28 25 11 9 11 10 7 5 5 5 4.5 4 4 3 3 4 6 9 7 6
23.5 21 19 17 14 13 14 12 10 10 12 9 6 5 6 7 6 7 8 9
30 28 26 22 16 12 9 5 4 5 4 5 4 5 5 6 5 5 6 7
29 27 23 18 12 7 5 4 3 4 5 4 5 5 4 3 4 6 5 6
28 27 24 20 15 10 6 4 3 4 3 4 3 3 2 2 3 4 5 4.5
27 26 25 22 19 14 13 10 8 6 6 8 10 12 9 7 8 12 11 10
29 28 27 26 24 21 16 15 18 19 19 18 14 9 10 8 6 6 5 7
30 29 28 26 23 19 14 10 9 7 8 6 6 4 4 3 5 6 8 10
""",
"PW": """
3.8 4.5 5.7 5.6 6.7 5.7 6.5 8.4 6.0 7.3 5.9 5.4 4.3 2.7 0.8 0.6 0.8 0.7 1.0 0.9
0.3 0.8 1.5 2.5 2.8 3.1 2.6 2.2 1.5 1.2 1.0 1.2 1.5 1.0 0.8 1.0 0.8 1.2 1.0 0.9
0.5 1.2 2.2 2.8 3.0 2.5 3.2 2.5 2.0 2.9 2.0 1.5 1.8 2.6 1.5 1.0 1.3 2.5 3.5 2.0
0.8 1.0 1.2 1.0 1.5 1.8 2.0 2.5 1.8 2.2 1.8 1.5 1.2 1.0 1.2 2.5 1.5 1.0 1.2 1.5
0.2 0.5 0.6 0.8 1.0 1.2 1.0 1.2 1.3 0.8 1.0 1.2 1.0 0.8 1.0 0.8 0.6 0.8 0.8 0.6
0.3 0.3 0.4 0.6 0.8 0.6 0.5 0.7 0.6 0.5 0.6 0.7 0.8 0.6 0.8 0.7 0.6 0.5 0.6 0.4
1.0 1.5 2.0 1.8 2.2 1.8 2.5 2.0 2.2 1.8 1.5 1.8 2.0 1.5 1.2 1.5 1.2 1.5 1.3 1.8
0.6 0.8 1.0 1.2 1.2 0.8 1.0 0.9 1.2 1.0 1.3 0.9 0.8 1.0 1.2 1.0 0.9 1.1 0.8 1.0
0.4 0.6 1.0 1.6 2.0 2.3 2.8 2.0 1.6 1.7 1.4 1.6 1.3 1.2 1.6 1.1 1.3 1.4 1.6 1.2
0.7 0.5 0.8 0.9 1.4 0.9 1.2 1.5 1.1 0.7 1.3 1.0 1.1 0.9 0.8 1.2 1.0 0.8 1.1 0.8
""",
"SWS1": """
2 3 5 8 10 12 12 13 13 12 12 11 12 16 19 17 16 14 15 14
0.5 1 3 6 9 11 12 12 11 12 11 11 12 11 13 12 13 14 12 10
0 0 0 0 0 0 1 3 5 6 7 8 9 6 10 12 10 9 9 7
0.5 1 2 4 6 8 9 8 8 7 8 10 11 10 9 8 9 9 8 6
0 0.5 1 2 4 5 5 5 6 6 7 8 8 9 10 11 10 11 12 11
1 2 4 7 9 10 11 10 9 10 12 12 12 11 12 13 12 11 10 10
0 1 3 5 6 6 7 7 6 7 6 6 7 6 8 9 9 10 8 8
1 2 3 4 7 8 9 9 10 11 11 12 12 13 12 12 11 12 11 9
0 0.5 1 3 5 7 8 9 8 8 9 10 9 10 9 8 8.5 9 8.5 9
0.5 1 2 3 3 4 5 7 8 9 9 10 11 12 12 11 10 9 8 8
""",
"SWS2": """
0.5 6 8.5 11 7 8 9 10 11 12 14 17 18 21 20 20 14 10 9 6
0 0.5 3 5 6 7 10 12 11 12 12 11 9 10 9 9 8 9 10 8
0 0 0 0 0 0.5 1 3 6 8 9 9 8 7 10 9 8 9 8 5
0 0 0 0 0 0 0 0 0 0 0 0 1 3 9 20 16 10 9 4
1 2 4 6 7 9 10 11 12 10 9 10 11 10 9 10 9 11 10 8
0 0 0.5 0.5 1 1 1.5 1.5 2 2.5 3 4 5 6 7 8 7 7 6 5
0 1 2 3 4 5 6 7 8 9 10 9 10 9 11 9 8 7 8 7
0.5 1 2 4 6 8 10 9 8 9 10 11 12 11 10 9 10 9 8 7
0 0.5 1 2 3 5 7 6 7 8 8 7 6 7 8 9 8 7 6 5
0 0 1 1.5 3 4 6 8 9 10 9 10 11 9 10 9 8 9 7 6
""",
"IS": """
0.15 0.13 0.20 0.30 0.35 0.45 0.48 0.70 0.70 0.70 0.65 0.65 0.55 0.70 1.15 0.80 1.05 0.95 0.90 0.70
0.10 0.11 0.12 0.14 0.18 0.22 0.28 0.35 0.40 0.50 0.62 0.93 0.70 0.80 0.75 0.75 1.40 0.70 0.50 0.45
0.10 0.10 0.10 0.11 0.12 0.15 0.20 0.25 0.35 0.40 0.50 0.60 0.70 0.65 0.80 0.60 0.80 0.65 0.55 0.40
0.10 0.10 0.10 0.10 0.10 0.11 0.12 0.13 0.15 0.20 0.25 0.30 0.35 0.40 0.35 0.45 0.40 0.45 0.40 0.35
0.11 0.12 0.12 0.13 0.15 0.18 0.20 0.22 0.25 0.30 0.35 0.38 0.30 0.35 0.45 0.40 0.45 0.40 0.35 0.42
0.10 0.10 0.10 0.10 0.10 0.10 0.10 0.10 0.10 0.11 0.11 0.12 0.12 0.13 0.15 0.17 0.18 0.20 0.18 0.20
0.10 0.10 0.11 0.12 0.12 0.13 0.15 0.18 0.20 0.25 0.30 0.32 0.30 0.35 0.40 0.45 0.40 0.35 0.30 0.30
0.10 0.10 0.10 0.10 0.10 0.10 0.11 0.12 0.12 0.13 0.14 0.15 0.15 0.15 0.18 0.20 0.20 0.22 0.25 0.28
0.12 0.15 0.20 0.30 0.35 0.40 0.45 0.50 0.55 0.50 0.40 0.45 0.50 0.45 0.55 0.50 0.55 0.50 0.45 0.40
0.10 0.10 0.11 0.12 0.14 0.16 0.18 0.20 0.25 0.30 0.28 0.35 0.40 0.48 0.42 0.50 0.45 0.42 0.38 0.32
""",
"PS": """
0.1 0.5 1.7 1.7 2.0 3.3 3.3 3.3 3.3 3.5 3.8 4.2 4.0 4.5 5.0 5.3 4.8 5.2 4.0 4.5
0.2 0.3 0.3 0.3 0.4 0.5 0.8 1.0 2.0 3.0 3.6 4.0 4.3 5.5 4.5 5.3 4.5 5.2 4.5 4.4
0.1 0.1 0.1 0.2 0.3 0.5 1.0 1.5 2.5 3.2 3.5 3.8 4.2 4.0 4.5 4.5 5.0 4.5 5.7 3.0
0.1 0.2 0.4 0.6 1.3 1.0 1.2 1.0 1.5 1.8 2.0 2.5 3.0 3.5 3.8 4.5 4.0 4.5 3.5 2.5
0.1 0.1 0.1 0.1 0.1 0.1 0.2 0.2 0.3 0.5 0.8 1.0 1.1 1.2 1.2 0.8 0.8 0.6 0.6 0.8
0.2 0.3 0.3 0.3 0.4 0.5 0.5 0.6 0.8 1.0 1.0 1.1 1.2 1.2 1.3 1.5 1.5 1.3 1.0 1.8
0.1 0.2 0.3 0.5 0.8 1.2 1.5 2.0 2.8 3.3 3.5 3.0 3.5 3.0 3.2 3.6 3.0 3.5 2.8 2.8
0.1 0.1 0.1 0.1 0.1 0.1 0.1 0.1 0.1 0.1 0.1 0.1 0.1 0.1 0.2 0.8 1.5 2.5 3.0 1.4
0.2 0.4 0.6 0.6 1.0 1.5 2.0 2.5 3.0 3.2 3.4 3.8 3.5 4.0 3.2 3.6 4.0 3.5 3.5 3.2
0.1 0.2 0.3 0.3 0.5 0.8 1.2 1.5 1.8 2.5 2.8 3.0 3.5 3.8 4.0 4.2 3.5 4.0 3.5 3.4
""",
}
stimul_mean = {
    "AW": [28.5, 27.0, 25.5, 24.0, 20.5, 16.5, 13.0, 12.5, 11.5, 10.5, 10.0, 9.5, 7.5, 6.0, 6.0, 6.0, 6.5, 7.5, 7.5, 10.0],
    "PW": [0.8, 1.0, 1.4, 1.9, 2.1, 1.8, 2.0, 2.0, 1.8, 1.9, 1.7, 1.7, 1.5, 1.3, 1.1, 1.2, 1.0, 1.2, 1.2, 1.3],
    "SWS1": [0.5, 1.5, 3.0, 4.5, 5.5, 6.0, 7.5, 7.5, 8.0, 8.3, 8.5, 9.0, 9.5, 10.0, 10.7, 10.8, 10.7, 10.5, 10.3, 10.0],
    "SWS2": [0.3, 0.8, 1.5, 3.2, 4.0, 5.0, 6.5, 6.8, 7.8, 7.8, 7.5, 8.0, 9.0, 9.5, 9.0, 8.8, 8.2, 7.5, 7.0, 6.0],
    "IS": [0.10, 0.10, 0.11, 0.13, 0.15, 0.17, 0.20, 0.25, 0.29, 0.32, 0.36, 0.39, 0.37, 0.40, 0.50, 0.43, 0.53, 0.44, 0.44, 0.40],
    "PS": [0.1, 0.2, 0.35, 0.45, 0.7, 0.9, 1.2, 1.5, 1.8, 2.1, 2.4, 2.6, 2.8, 2.6, 3.3, 3.2, 3.7, 3.0, 3.3, 2.8],
}
stimul_fit = {
    "AW": [29.5, 27.5, 25.3, 22.5, 19.5, 16.8, 14.5, 12.8, 11.3, 10.0, 8.9, 7.8, 6.8, 6.0, 5.8, 5.8, 6.3, 7.0, 8.0, 9.3],
    "PW": [0.85, 1.1, 1.4, 1.7, 1.9, 2.0, 2.05, 2.05, 2.0, 1.9, 1.8, 1.65, 1.5, 1.35, 1.25, 1.2, 1.15, 1.15, 1.2, 1.25],
    "SWS1": [0.0, 1.2, 2.6, 4.0, 5.2, 6.2, 7.0, 7.7, 8.3, 8.8, 9.3, 9.7, 10.1, 10.5, 10.8, 10.9, 10.9, 10.7, 10.4, 10.0],
    "SWS2": [-0.8, 0.8, 2.2, 3.4, 4.5, 5.5, 6.3, 7.0, 7.6, 8.1, 8.5, 8.8, 9.0, 9.1, 9.0, 8.7, 8.2, 7.6, 6.9, 6.0],
    "IS": [0.10, 0.10, 0.11, 0.13, 0.15, 0.18, 0.21, 0.25, 0.29, 0.33, 0.36, 0.39, 0.42, 0.45, 0.47, 0.48, 0.47, 0.45, 0.42, 0.38],
    "PS": [0.1, 0.2, 0.3, 0.45, 0.65, 0.9, 1.2, 1.5, 1.85, 2.2, 2.5, 2.75, 2.95, 3.1, 3.2, 3.25, 3.2, 3.15, 3.05, 2.95],
}

TRT = {"Placebo": placebo_trt, "Antipsy": antipsy_trt, "Antidep": antidep_trt,
       "Hypno": hypno_trt, "Stimul": stimul_trt}
CLASS_MEAN = {"Placebo": placebo_mean, "Antipsy": antipsy_mean, "Antidep": antidep_mean,
              "Hypno": hypno_mean, "Stimul": stimul_mean}
FITTED = {"Placebo": placebo_fit, "Antipsy": antipsy_fit, "Antidep": antidep_fit,
          "Hypno": hypno_fit, "Stimul": stimul_fit}


def parse_block(block):
    return [np.array(line.split(), dtype=float) for line in block.strip().splitlines()]


# ---------------------------------------------------------------- figure
W, H = 1564, 924
fig = plt.figure(figsize=(W / 100, H / 100), dpi=100)
fig.patch.set_facecolor("white")

SANS = ["Liberation Sans", "DejaVu Sans"]
SERIF = ["cmr10", "DejaVu Serif"]
GRAY = "#999999"
DASH = (4.5, 2.8)

BOX_L, BOX_DX, BOX_W = 98, 248, 213
BOX_T, BOX_DY, BOX_H = 62, 176.25, 127.5

problems = []
for r, cls in enumerate(CLASSES):
    for c, stage in enumerate(STAGES):
        left = BOX_L + BOX_DX * c
        top = BOX_T + BOX_DY * r
        ax = fig.add_axes([left / W, 1 - (top + BOX_H) / H, BOX_W / W, BOX_H / H])

        yt = Y_TICKS[stage]
        pad_y = 0.04 * (yt[-1] - yt[0])
        ax.set_xlim(1 - 0.04 * 19, 20 + 0.04 * 19)
        ax.set_ylim(yt[0] - pad_y, yt[-1] + pad_y)

        for line in parse_block(TRT[cls][stage]):
            if len(line) != len(PERIODS):
                problems.append((cls, stage, len(line)))
                continue
            ax.plot(PERIODS, line, color=GRAY, lw=0.8, zorder=2)
        ax.plot(PERIODS, FITTED[cls][stage], color="red", lw=1.5, zorder=3)
        ax.plot(PERIODS, CLASS_MEAN[cls][stage], color="blue", lw=1.6,
                dashes=DASH, zorder=4)

        ax.set_xticks(X_TICKS)
        ax.set_yticks(yt)
        if stage == "IS":
            ax.set_yticklabels([f"{v:.1f}" for v in yt])
        else:
            ax.set_yticklabels([f"{v:g}" for v in yt])
        ax.tick_params(axis="both", direction="out", length=2.8, width=0.6,
                       labelsize=5.2, pad=0.8)
        ax.tick_params(axis="y", labelrotation=90)
        for lab in ax.get_yticklabels():
            lab.set_verticalalignment("center")
            lab.set_family(SANS)
        for lab in ax.get_xticklabels():
            lab.set_family(SANS)
        for sp in ax.spines.values():
            sp.set_linewidth(0.9)

        ax.set_xlabel("Period", fontsize=8, family=SANS)
        ax.xaxis.set_label_coords(0.5, -0.082)
        ax.set_ylabel(f"{stage} Minutes", fontsize=6.6, family=SANS)
        ax.yaxis.set_label_coords(-0.062, 0.5)

        if c == 0:
            handles = [
                plt.Line2D([], [], color=GRAY, lw=0.9),
                plt.Line2D([], [], color="blue", lw=1.6, dashes=DASH),
                plt.Line2D([], [], color="red", lw=1.5),
            ]
            ax.legend(handles, LEGEND_LABELS, loc="upper left",
                      bbox_to_anchor=(0.09, 0.945), frameon=False,
                      prop={"family": SANS, "size": 7.4}, handlelength=2.6,
                      handletextpad=0.8, labelspacing=0.25, borderpad=0,
                      borderaxespad=0)

        if r == 0:
            fig.text((left + BOX_W / 2) / W, 1 - 20 / H, STAGE_TITLES[c],
                     ha="center", va="center", fontsize=19, family=SERIF)
    fig.text(31 / W, 1 - (BOX_T + BOX_DY * r + BOX_H / 2 - 6) / H, cls,
             ha="center", va="center", rotation=90, fontsize=19, family=SERIF)

assert not problems, problems

fig.savefig("out.png", dpi=100, facecolor="white")
